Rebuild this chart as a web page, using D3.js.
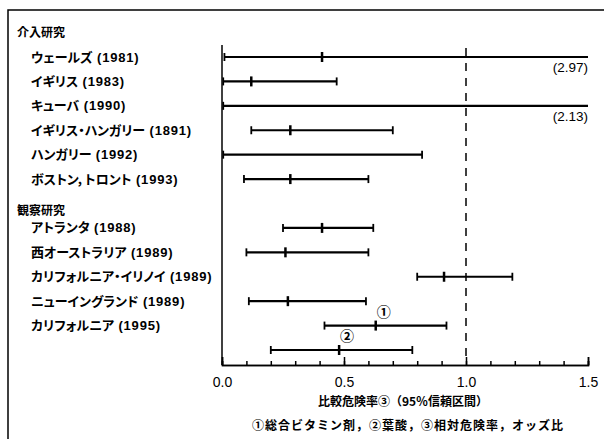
<!DOCTYPE html>
<html>
<head>
<meta charset="utf-8">
<script src="https://cdn.jsdelivr.net/npm/d3@7"></script>
<style>
  body { margin: 0; background: #fff; }
  text { font-family: "Noto Sans CJK JP", "Noto Sans", sans-serif; fill: #000; }
  .num { font-family: "Liberation Sans", Arial, sans-serif; }
</style>
</head>
<body>
<div id="chart"></div>
<script>
// row labels (row index 0..12, headers in between)
const headers = ['介入研究', '観察研究'];
const headerRows = [-1, 6.3];

const studyNames = [
  'ウェールズ', 'イギリス', 'キューバ',
  'イギリス・ハンガリー', 'ハンガリー', 'ボストン，トロント',
  'アトランタ', '西オーストラリア', 'カリフォルニア・イリノイ',
  'ニューイングランド', 'カリフォルニア'
];
const studyYears = ['1981', '1983', '1990', '1891', '1992', '1993', '1988', '1989', '1989', '1989', '1995'];
const studyRows = [0, 1, 2, 3, 4, 5, 7, 8, 9, 10, 11];

// confidence intervals, one entry per drawn line
const lineRows  = [0, 1, 2, 3, 4, 5, 7, 8, 9, 10, 11, 12];
const lower     = [0.01, 0.005, 0.005, 0.12, 0.005, 0.09, 0.25, 0.10, 0.80, 0.11, 0.42, 0.20];
const estimate  = [0.41, 0.12, null, 0.28, null, 0.28, 0.41, 0.26, 0.91, 0.27, 0.63, 0.48];
const upper     = [2.97, 0.47, 2.13, 0.70, 0.82, 0.60, 0.62, 0.60, 1.19, 0.59, 0.92, 0.78];
const marks     = ['', '', '', '', '', '', '', '', '', '', '①', '②'];

const xTicksMajor = [0, 0.5, 1.0, 1.5];
const xTicksMinor = d3.range(0, 16).map(i => i / 10);

const axisTitle = '比較危険率③（95％信頼区間）';
const footnote = '①総合ビタミン剤，②葉酸，③相対危険率，オッズ比';

const W = 604, H = 439;
const xMax = 1.5;

const x = d3.scaleLinear().domain([0, xMax]).range([222, 588]);
const y = d3.scaleLinear().domain([0, 12]).range([57, 350]);
const axisY = 365;

const svg = d3.create('svg')
  .attr('width', W)
  .attr('height', H);

// outer frame (runs off the right and bottom)
svg.append('path')
  .attr('d', `M${W + 5},10 H8 V${H + 5}`)
  .attr('fill', 'none')
  .attr('stroke', '#000')
  .attr('stroke-width', 1.5);

// left axis line
svg.append('line')
  .attr('x1', x(0)).attr('x2', x(0))
  .attr('y1', 45).attr('y2', axisY)
  .attr('stroke', '#000').attr('stroke-width', 1.5);

// reference line at 1.0
svg.append('line')
  .attr('x1', x(1)).attr('x2', x(1))
  .attr('y1', 48).attr('y2', axisY - 4)
  .attr('stroke', '#000').attr('stroke-width', 1.5)
  .attr('stroke-dasharray', '8,7');

// x axis
const gMinor = svg.append('g')
  .attr('transform', `translate(0,${axisY})`)
  .call(d3.axisBottom(x).tickValues(xTicksMinor).tickSize(-4).tickFormat(''));
const gMajor = svg.append('g')
  .attr('transform', `translate(0,${axisY})`)
  .call(d3.axisBottom(x).tickValues(xTicksMajor).tickSize(-8).tickPadding(12).tickFormat(d3.format('.1f')));
[gMinor, gMajor].forEach(g => {
  g.select('.domain').attr('stroke', '#000').attr('stroke-width', 1.5);
  g.selectAll('.tick line').attr('stroke', '#000').attr('stroke-width', 1.5);
});
gMajor.selectAll('.tick text')
  .style('font-family', '"Liberation Sans", Arial, sans-serif')
  .attr('font-size', 14);

// headers and study labels
svg.append('g').selectAll('text')
  .data(headers)
  .join('text')
    .attr('x', 17)
    .attr('y', (d, i) => y(headerRows[i]))
    .attr('dy', '0.35em')
    .attr('font-size', 12)
    .attr('font-weight', 'bold')
    .text(d => d);

const labels = svg.append('g').selectAll('text')
  .data(studyNames)
  .join('text')
    .attr('x', 31)
    .attr('y', (d, i) => y(studyRows[i]))
    .attr('dy', '0.35em')
    .attr('font-size', 13)
    .attr('font-weight', 'bold')
    .style('font-feature-settings', '"palt"');
labels.append('tspan').text(d => d);
labels.append('tspan')
  .attr('class', 'num')
  .attr('font-size', 13)
  .attr('letter-spacing', 0.8)
  .text((d, i) => ` (${studyYears[i]})`);

// confidence interval lines
const ci = lineRows.map((r, i) => ({ r, lo: lower[i], est: estimate[i], hi: upper[i], mark: marks[i] }));
const g = svg.append('g').attr('stroke', '#000');

g.selectAll('line.ci')
  .data(ci)
  .join('line')
    .attr('class', 'ci')
    .attr('x1', d => x(d.lo))
    .attr('x2', d => x(Math.min(d.hi, xMax)))
    .attr('y1', d => y(d.r)).attr('y2', d => y(d.r))
    .attr('stroke-width', 2.2);

g.selectAll('line.lo')
  .data(ci)
  .join('line')
    .attr('class', 'lo')
    .attr('x1', d => x(d.lo)).attr('x2', d => x(d.lo))
    .attr('y1', d => y(d.r) - 4).attr('y2', d => y(d.r) + 4)
    .attr('stroke-width', 1.8);

g.selectAll('line.hi')
  .data(ci.filter(d => d.hi <= xMax))
  .join('line')
    .attr('class', 'hi')
    .attr('x1', d => x(d.hi)).attr('x2', d => x(d.hi))
    .attr('y1', d => y(d.r) - 4).attr('y2', d => y(d.r) + 4)
    .attr('stroke-width', 1.8);

g.selectAll('line.est')
  .data(ci.filter(d => d.est != null))
  .join('line')
    .attr('class', 'est')
    .attr('x1', d => x(d.est)).attr('x2', d => x(d.est))
    .attr('y1', d => y(d.r) - 5).attr('y2', d => y(d.r) + 5)
    .attr('stroke-width', 2.5);

// values beyond the axis
svg.append('g').selectAll('text')
  .data(ci.filter(d => d.hi > xMax))
  .join('text')
    .attr('class', 'num')
    .attr('x', x(xMax))
    .attr('y', d => y(d.r) + 15)
    .attr('text-anchor', 'end')
    .attr('font-size', 13.5)
    .text(d => `(${d.hi.toFixed(2)})`);

// circled markers
svg.append('g').selectAll('text')
  .data(ci.filter(d => d.mark))
  .join('text')
    .attr('x', d => x(d.est) + 8)
    .attr('y', d => y(d.r) - 9)
    .attr('text-anchor', 'middle')
    .attr('font-size', 14)
    .attr('font-weight', 'bold')
    .text(d => d.mark);

// axis title and footnote
svg.append('text')
  .attr('x', 403).attr('y', 402)
  .attr('dy', '0.35em')
  .attr('text-anchor', 'middle')
  .attr('font-size', 12)
  .attr('font-weight', 'bold')
  .text(axisTitle);

svg.append('text')
  .attr('x', 408).attr('y', 426)
  .attr('dy', '0.35em')
  .attr('text-anchor', 'middle')
  .attr('font-size', 12)
  .attr('font-weight', 'bold')
  .attr('letter-spacing', 1)
  .text(footnote);

d3.select('#chart').node().appendChild(svg.node());
</script>
</body>
</html>
